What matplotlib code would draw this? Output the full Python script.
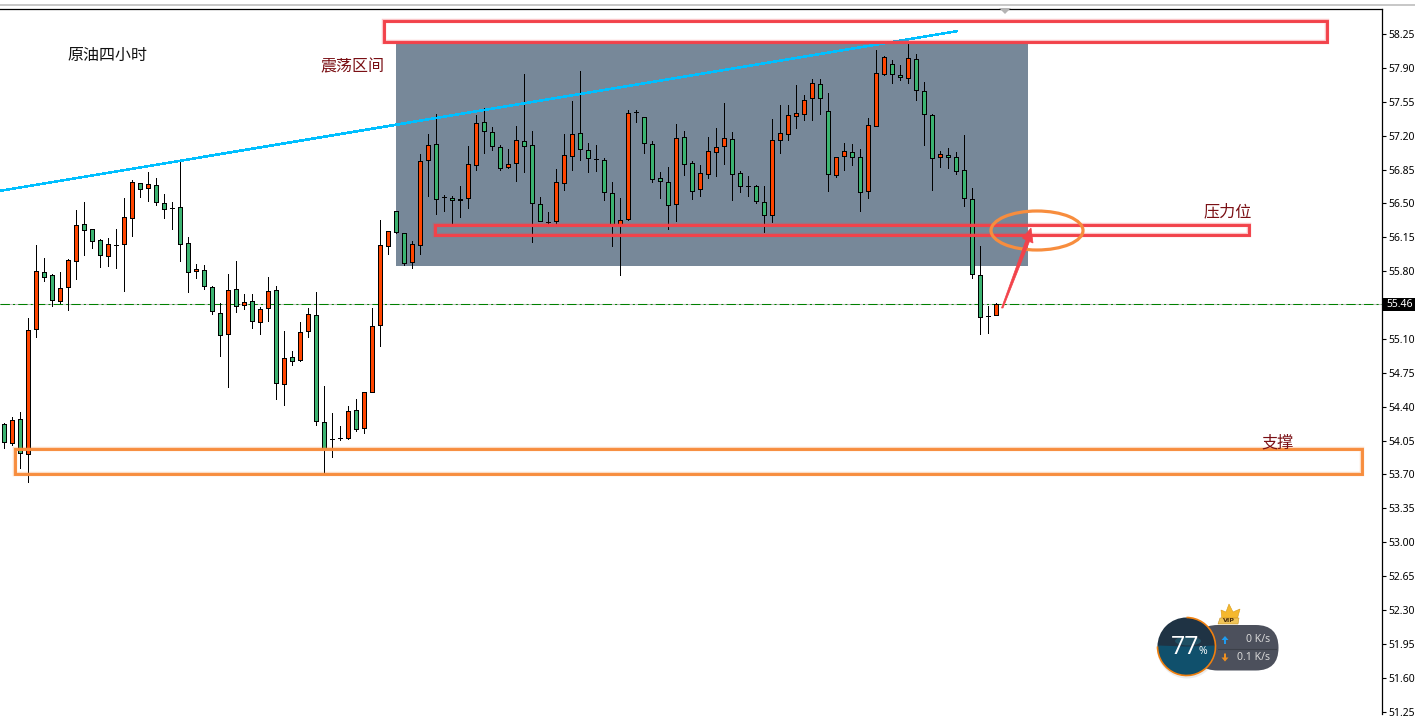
import matplotlib
matplotlib.use("Agg")
import matplotlib.pyplot as plt
from matplotlib.patches import Rectangle, Ellipse, FancyBboxPatch, Circle, Wedge, Polygon, Arc

plt.rcParams['font.family'] = ['Noto Sans CJK SC', 'DejaVu Sans']

highs = [54.23,54.29,54.34,55.32,56.07,55.94,55.77,55.79,55.93,56.43,56.51,56.24,56.13,56.14,56.24,56.56,56.74,56.71,56.82,56.76,56.60,56.51,56.93,56.15,55.87,
         55.86,55.65,55.47,55.77,55.90,55.56,55.56,55.43,55.74,55.65,55.18,54.98,55.27,55.42,55.58,54.61,54.33,54.20,54.41,54.48,54.55,55.42,56.33,56.21,56.42,
         56.19,56.11,57.01,57.22,57.42,56.59,56.58,56.68,57.09,57.41,57.49,57.29,57.10,57.06,57.30,57.84,57.25,56.57,56.41,56.86,57.22,57.56,57.87,57.12,57.10,
         56.97,56.72,56.56,57.47,57.47,57.39,57.14,56.82,56.88,57.32,57.25,56.94,56.90,57.19,57.28,57.54,57.24,56.83,56.78,56.69,56.68,57.37,57.52,57.52,57.72,
         57.62,57.78,57.78,57.64,56.98,57.12,57.11,57.06,57.38,58.08,58.02,57.98,57.93,58.15,58.04,57.75,57.42,57.04,57.07,57.03,57.21,56.66,56.06,55.44,55.47]
tops = [54.22,54.26,54.27,55.19,55.80,55.79,55.76,55.63,55.92,56.28,56.29,56.24,56.12,56.08,56.07,56.36,56.72,56.71,56.70,56.69,56.50,56.45,56.46,56.09,55.82,
        55.81,55.64,55.37,55.61,55.62,55.48,55.49,55.41,55.60,55.61,54.90,54.91,55.17,55.36,55.35,54.24,54.07,54.08,54.36,54.37,54.55,55.23,56.07,56.21,56.42,
        56.19,56.08,56.94,57.10,57.11,56.57,56.56,56.55,56.91,57.33,57.34,57.24,57.08,56.91,57.15,57.14,57.10,56.49,56.31,56.72,57.00,57.22,57.23,57.05,56.96,
        56.95,56.61,56.33,57.43,57.44,57.39,57.11,56.76,56.72,57.18,57.19,56.92,56.81,57.04,57.08,57.18,57.17,56.81,56.68,56.68,56.51,57.16,57.23,57.41,57.43,
        57.57,57.74,57.73,57.45,56.98,57.04,57.03,56.98,57.31,57.85,58.01,57.94,57.83,58.00,57.99,57.66,57.41,57.01,57.00,56.98,56.84,56.55,55.76,55.34,55.46]
bottoms = [54.03,54.02,53.92,53.91,55.20,55.74,55.50,55.49,55.64,55.91,56.23,56.11,55.97,55.96,56.07,56.08,56.35,56.65,56.66,56.51,56.44,56.45,56.08,55.79,55.80,
           55.65,55.39,55.14,55.15,55.44,55.45,55.28,55.27,55.42,54.64,54.63,54.87,54.88,55.18,54.25,53.96,54.07,54.08,54.08,54.17,54.18,54.55,55.24,56.06,56.20,
           55.88,55.89,56.07,56.95,56.55,56.57,56.54,56.53,56.56,56.90,57.25,57.09,56.87,56.88,56.92,57.09,56.50,56.32,56.31,56.32,56.71,56.99,57.06,56.97,56.96,
           56.62,56.29,56.28,56.34,57.44,57.12,56.75,56.73,56.48,56.49,56.91,56.63,56.65,56.80,57.03,57.09,56.80,56.68,56.68,56.52,56.38,56.38,57.15,57.22,57.40,
           57.42,57.59,57.59,56.80,56.79,56.99,56.98,56.62,56.63,57.30,57.84,57.84,57.81,57.80,57.67,57.42,56.97,56.98,56.98,56.83,56.56,55.77,55.33,55.34,55.35]
lows = [53.97,54.00,53.77,53.62,55.12,55.70,55.44,55.47,55.40,55.72,55.97,56.04,55.84,55.85,55.83,55.60,56.16,56.57,56.52,56.48,56.35,56.24,55.90,55.58,55.73,
        55.62,55.36,54.92,54.60,55.38,55.41,55.21,55.15,55.28,54.48,54.42,54.83,54.87,55.12,54.21,53.72,53.88,54.06,54.07,54.15,54.13,54.55,55.03,55.98,56.19,
        55.86,55.83,55.98,56.58,56.39,56.42,56.29,56.36,56.45,56.84,57.02,57.05,56.85,56.87,56.73,56.82,56.10,56.32,56.29,56.29,56.64,56.84,56.95,56.82,56.83,
        56.54,56.06,55.76,56.33,57.34,57.02,56.72,56.56,56.24,56.32,56.79,56.55,56.58,56.76,56.78,56.91,56.54,56.62,56.58,56.50,56.20,56.31,57.02,57.16,57.28,
        57.36,57.36,57.42,56.63,56.77,56.84,56.90,56.42,56.56,57.30,57.83,57.74,57.77,57.74,57.57,57.10,56.64,56.88,56.87,56.80,56.47,55.73,55.15,55.16,55.35]
# True where the candle is a falling (green) one
falling = [1,0,1,0,0,1,1,0,0,0,1,1,1,0,1,0,0,1,0,1,1,1,1,1,0,
           1,1,1,0,1,0,1,0,0,1,0,1,0,0,1,1,1,1,0,1,0,0,0,0,1,
           1,0,0,0,1,1,1,0,0,0,1,1,1,0,0,1,1,1,1,0,0,0,1,1,1,
           1,1,0,0,1,1,1,1,1,0,1,1,0,0,0,0,1,1,1,1,1,0,0,0,0,
           0,0,1,1,0,0,1,1,0,0,0,1,1,0,1,1,1,0,1,1,1,1,1,1,0]

tick_values = [58.25,57.90,57.55,57.20,56.85,56.50,56.15,55.80,55.10,54.75,54.40,54.05,53.70,53.35,53.00,52.65,52.30,51.95,51.60,51.25]
last_price = 55.46
trend_x = [-0.54, 119.1]
trend_y = [56.63, 58.28]
zone_x = [48.96, 127.96]
zone_y = [55.85, 58.17]

W, H = 1415, 716
AX_L, AX_R, AX_T, AX_B = 0, 1382, 8.5, 714
fig = plt.figure(figsize=(W/100, H/100), dpi=100, facecolor='white')
ax = fig.add_axes([AX_L/W, 1-AX_B/H, (AX_R-AX_L)/W, (AX_B-AX_T)/H])
ax.set_xlim(-0.54, (AX_R-4.3)/8)
ax.set_ylim(58.25-(AX_B-34)/96.8, 58.25+(34-AX_T)/96.8)

for s in ('left', 'bottom'):
    ax.spines[s].set_visible(False)
for s in ('top', 'right'):
    ax.spines[s].set_linewidth(0.9)
ax.set_xticks([])
ax.yaxis.tick_right()
ax.set_yticks(tick_values + [last_price])
ax.set_yticklabels([f'{v:.2f}' for v in tick_values] + [''], fontsize=7.5, color='black',
                   family=['Noto Sans', 'DejaVu Sans'])
ax.tick_params(axis='y', length=3, width=0.8, pad=1.5)

ax.add_patch(Rectangle((zone_x[0], zone_y[0]), zone_x[1]-zone_x[0], zone_y[1]-zone_y[0],
                       facecolor='#778899', edgecolor='none', zorder=1))

ax.axhline(last_price, color='#c0c0c0', lw=0.75, zorder=1.5)
ax.axhline(last_price, color='#008000', lw=0.75, dashes=(9, 3, 2, 3), zorder=1.6)

xs = list(range(len(highs)))
ax.vlines(xs, lows, highs, color='black', lw=0.5, zorder=3, antialiased=False)
heights = [t-b for t, b in zip(tops, bottoms)]
colors = ['#3cb371' if f else '#ff4500' for f in falling]
ax.bar(xs, heights, bottom=bottoms, width=0.5, color=colors, edgecolor='black', linewidth=0.5,
       zorder=4, antialiased=False)

ax.plot(trend_x, trend_y, color='#00bfff', lw=1.1, zorder=5, solid_capstyle='butt', antialiased=False)

# full-figure pixel overlay for hand-drawn annotations and the widget
ov = fig.add_axes([0, 0, 1, 1], facecolor='none')
ov.set_xlim(0, W)
ov.set_ylim(H, 0)
ov.axis('off')

red = '#f2424a'
orange = '#f78d3e'
def box(x, y, w, h, col):
    ov.add_patch(Rectangle((x, y), w, h, fill=False, ec=col, lw=3.2, alpha=0.3))
    ov.add_patch(Rectangle((x, y), w, h, fill=False, ec=col, lw=2.1))
box(384, 21, 943, 21, red)
box(435, 225, 814, 10, red)
box(15, 449, 1347, 24.5, orange)
ov.add_patch(Ellipse((1037, 230.5), 92, 39, fill=False, ec=orange, lw=2.3))
ov.add_patch(Polygon([(1001.5, 308), (1026, 240), (1022.5, 238), (1031, 228), (1033, 243), (1029.5, 241.5), (1003, 308)],
                     closed=True, fc=red, ec=red, lw=0.5))
# top strip and the small shift marker
ov.add_patch(Rectangle((0, 3.5), W, 2, fc='#c8c8c8', ec='none'))
ov.add_patch(Polygon([(999, 8), (1011, 8), (1005, 14)], closed=True, fc='#b4b4b4', ec='none'))

# current price tag
ov.add_patch(Rectangle((1383, 298), 32, 13, fc='black', ec='none'))
ov.text(1386, 304.5, f'{last_price:.2f}', color='white', fontsize=7.5, va='center', ha='left',
        family=['Noto Sans', 'DejaVu Sans'])

dark = '#7a0f14'
ov.text(67, 55, '原油四小时', fontsize=11.5, color='#111111', va='center', ha='left')
ov.text(320.5, 67, '震荡区间', fontsize=11.5, color=dark, va='center', ha='left')
ov.text(1204, 212, '压力位', fontsize=11.6, color=dark, va='center', ha='left')
ov.text(1261, 443, '支撑', fontsize=11.6, color=dark, va='center', ha='left')

# network-speed widget
ov.add_patch(Circle((1187, 648.5), 30, fc='#c8c8c8', ec='none', alpha=0.35, zorder=5))
ov.add_patch(FancyBboxPatch((1195, 625), 83.5, 45.5, boxstyle='round,pad=0,rounding_size=22.7',
                            fc='#4c505c', ec='none', zorder=6))
ov.plot([1218, 1276], [648.5, 648.5], color='#3c4049', lw=0.8, zorder=7)
ov.add_patch(Circle((1186.5, 646.5), 29, fc='#1f3344', ec='none', zorder=8))
ov.add_patch(Wedge((1186.5, 646.5), 28.5, -2, 182, fc='#10506c', ec='none', zorder=9))
ov.add_patch(Ellipse((1188, 641), 26, 9, fc='#1f4f63', ec='none', zorder=9))
ov.add_patch(Arc((1186.5, 646.5), 58, 58, theta1=-90, theta2=180, ec='#f08010', lw=1.2, zorder=10))
ov.text(1185, 648, '77', color='white', fontsize=18, va='center', ha='center', zorder=12,
        family=['Open Sans', 'DejaVu Sans'])
ov.text(1203, 652, '%', color='white', fontsize=7.5, va='center', ha='center', zorder=12,
        family=['Open Sans', 'DejaVu Sans'])
ov.text(1270, 640, '0 K/s', color='#d8d8d8', fontsize=7.6, va='center', ha='right', zorder=12,
        family=['Noto Sans', 'DejaVu Sans'])
ov.text(1270, 657, '0.1 K/s', color='#d8d8d8', fontsize=7.6, va='center', ha='right', zorder=12,
        family=['Noto Sans', 'DejaVu Sans'])
ov.add_patch(Polygon([(1225, 636), (1228.5, 640), (1226, 640), (1226, 644), (1224, 644), (1224, 640), (1221.5, 640)],
                     closed=True, fc='#1e9bf0', ec='none', zorder=12))
ov.add_patch(Polygon([(1225, 661.5), (1228.5, 657.5), (1226, 657.5), (1226, 653.5), (1224, 653.5), (1224, 657.5), (1221.5, 657.5)],
                     closed=True, fc='#f09020', ec='none', zorder=12))
ov.add_patch(Polygon([(1222, 620), (1221, 610), (1226, 612), (1229, 604), (1233, 612), (1240, 609), (1237, 620)],
                     closed=True, fc='#f5b82e', ec='#d89a18', lw=0.4, zorder=13))
ov.add_patch(Polygon([(1220, 618), (1239, 618), (1238, 624), (1218, 624)],
                     closed=True, fc='#f0c458', ec='#c89020', lw=0.4, zorder=13))
ov.text(1228.5, 621, 'VIP', color='#4a2c08', fontsize=4.6, fontweight='bold', va='center', ha='center', zorder=14,
        family=['DejaVu Sans'])

fig.savefig('out.png', dpi=100, facecolor='white')
